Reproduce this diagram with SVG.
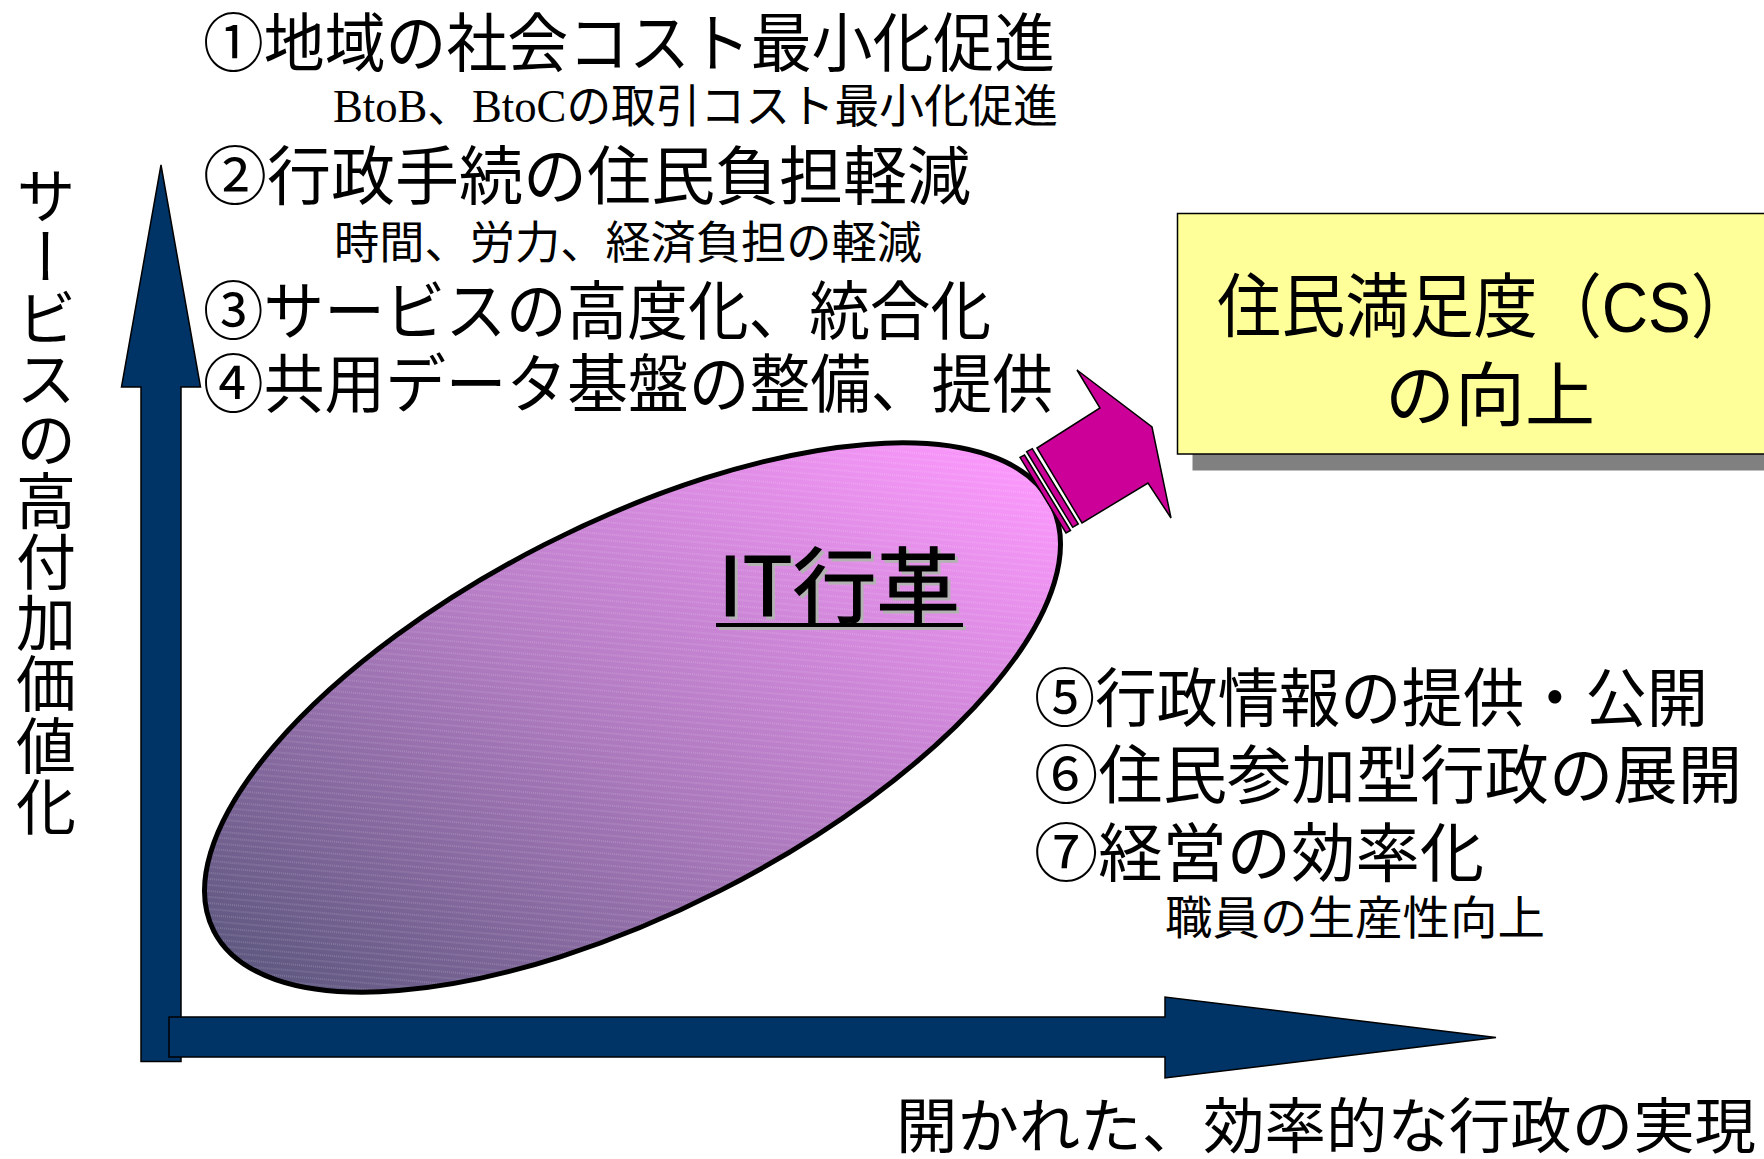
<svg xmlns="http://www.w3.org/2000/svg" width="1764" height="1159" viewBox="0 0 1764 1159">
  <style>
    .jp { font-family: "Noto Sans CJK JP", "Noto Sans CJK SC", sans-serif; fill: #000; }
    .big { font-size: 64px; }
    .small { font-size: 45px; }
    .serifmix { font-family: "Liberation Serif", "Noto Sans CJK JP", serif; font-size: 46px; fill: #000; }
    .box-text { font-family: "Liberation Sans", "Noto Sans CJK JP", sans-serif; font-size: 70px; fill: #000; }
    .axis { fill: #003366; stroke: #000; stroke-width: 1.5; stroke-linejoin: miter; }
    .pink { fill: #CC0099; stroke: #000; stroke-width: 1.5; stroke-linejoin: miter; }
    .title { font-family: "Noto Sans CJK JP", sans-serif; font-size: 82px; }
  </style>
  <defs>
    <linearGradient id="ellGrad" gradientUnits="userSpaceOnUse" x1="240" y1="950" x2="1010" y2="490">
      <stop offset="0" stop-color="#57557a"/>
      <stop offset="0.5" stop-color="#b27cc2"/>
      <stop offset="1" stop-color="#ff99ff"/>
    </linearGradient>
    <pattern id="hatch" patternUnits="userSpaceOnUse" width="6" height="6" patternTransform="rotate(32)">
      <line x1="0" y1="3" x2="6" y2="3" stroke="#ffffff" stroke-width="1" stroke-opacity="0.3" stroke-dasharray="1 1"/>
    </pattern>
  </defs>

  <rect width="1764" height="1159" fill="#ffffff"/>

  <!-- Axes -->
  <g id="axes">
    <polygon id="y-axis" class="axis" points="161,165 200.5,387 181,387 181,1061.5 141,1061.5 141,387 121.5,387"/>
    <polygon id="x-axis" class="axis" points="169,1017 1165,1017 1165,997 1496,1037.5 1165,1078 1165,1057 169,1057"/>
  </g>

  <!-- Axis labels -->
  <g id="y-axis-label">
    <text class="jp" x="46" y="165" font-size="60" style="writing-mode: vertical-rl;" textLength="672" lengthAdjust="spacingAndGlyphs">サービスの高付加価値化</text>
  </g>
  <g id="x-axis-label">
    <text class="jp" x="896" y="1148" font-size="60" textLength="860" lengthAdjust="spacingAndGlyphs">開かれた、効率的な行政の実現</text>
  </g>

  <!-- Ellipse node: IT行革 -->
  <g id="node-it-reform">
    <ellipse cx="632.5" cy="717.5" rx="470" ry="194" transform="rotate(-27 632.5 717.5)" fill="url(#ellGrad)"/>
    <ellipse cx="632.5" cy="717.5" rx="470" ry="194" transform="rotate(-27 632.5 717.5)" fill="url(#hatch)" stroke="#000" stroke-width="5"/>
    <text class="title" x="721" y="619" fill="#b2b2b2" stroke="#b2b2b2" stroke-width="1" textLength="242" lengthAdjust="spacingAndGlyphs">IT行革</text>
    <rect x="719" y="626" width="247" height="4" fill="#b2b2b2"/>
    <text class="title" x="718" y="616" fill="#000" stroke="#000" stroke-width="1.2" textLength="242" lengthAdjust="spacingAndGlyphs">IT行革</text>
    <rect x="716" y="623" width="247" height="4" fill="#000"/>
  </g>

  <!-- Connector: pink block arrow -->
  <g id="connectors">
    <polygon class="pink" points="1037,448 1100,408 1077,370 1152,427 1171,518 1148,483 1082,523"/>
    <polygon class="pink" stroke-width="1" points="1026.7,451.7 1032.3,448.7 1078.3,524 1072.7,527.3"/>
    <polygon class="pink" stroke-width="1" points="1020,457.3 1024.5,455 1070.5,530.5 1066,533"/>
  </g>

  <!-- Target box -->
  <g id="node-cs">
    <rect x="1192.5" y="230" width="600" height="240.5" fill="#808080"/>
    <rect x="1177.5" y="213.5" width="600" height="240.5" fill="#FFFF99" stroke="#000" stroke-width="1.5"/>
    <text class="box-text" x="1486" y="332" text-anchor="middle" textLength="538" lengthAdjust="spacingAndGlyphs">住民満足度（CS）</text>
    <text class="box-text" x="1490" y="421" text-anchor="middle">の向上</text>
  </g>

  <!-- Left list -->
  <g id="list-top">
    <text class="jp big" x="203" y="66" textLength="852" lengthAdjust="spacingAndGlyphs">①地域の社会コスト最小化促進</text>
    <text class="serifmix" x="333" y="122" textLength="725" lengthAdjust="spacingAndGlyphs">BtoB、BtoCの取引コスト最小化促進</text>
    <text class="jp big" x="203" y="199" textLength="768" lengthAdjust="spacingAndGlyphs">②行政手続の住民負担軽減</text>
    <text class="jp small" x="334" y="259" textLength="588" lengthAdjust="spacingAndGlyphs">時間、労力、経済負担の軽減</text>
    <text class="jp big" x="203" y="334" textLength="788" lengthAdjust="spacingAndGlyphs">③サービスの高度化、統合化</text>
    <text class="jp big" x="203" y="407" textLength="850" lengthAdjust="spacingAndGlyphs">④共用データ基盤の整備、提供</text>
  </g>

  <!-- Right list -->
  <g id="list-right">
    <text class="jp big" x="1034" y="721" textLength="674" lengthAdjust="spacingAndGlyphs">⑤行政情報の提供・公開</text>
    <text class="jp big" x="1034" y="798" textLength="708" lengthAdjust="spacingAndGlyphs">⑥住民参加型行政の展開</text>
    <text class="jp big" x="1034" y="876" textLength="450" lengthAdjust="spacingAndGlyphs">⑦経営の効率化</text>
    <text class="jp" x="1165" y="934" font-size="46" textLength="380" lengthAdjust="spacingAndGlyphs">職員の生産性向上</text>
  </g>
</svg>
